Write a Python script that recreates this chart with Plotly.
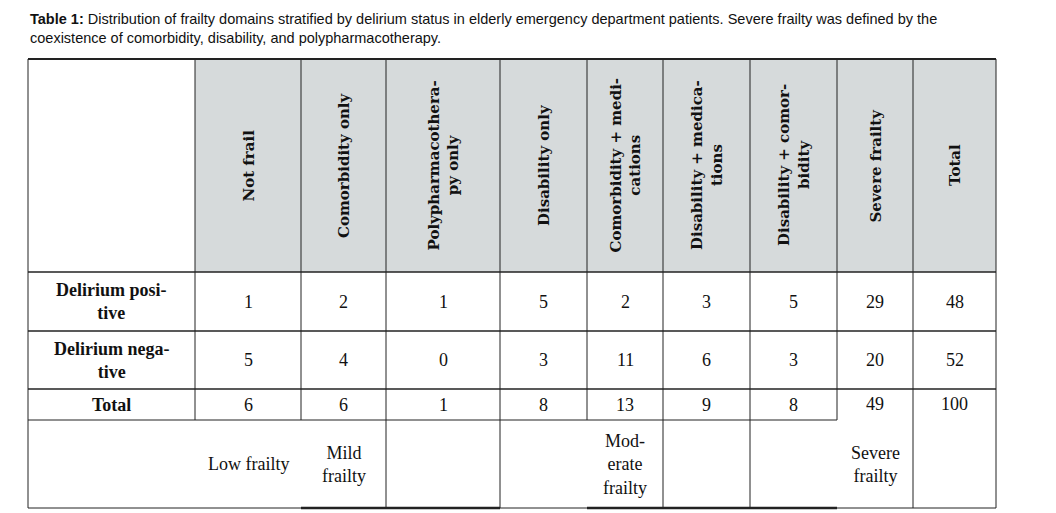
import plotly.graph_objects as go

# column headers (rotated) and values
headers = ["Not frail", "Comorbidity only", "Polypharmacothera-<br>py only", "Disability only",
           "Comorbidity + medi-<br>cations", "Disability + medica-<br>tions", "Disability + comor-<br>bidity",
           "Severe frailty", "Total"]
row_labels = ["Delirium posi-<br>tive", "Delirium nega-<br>tive", "Total"]
pos_vals = [1, 2, 1, 5, 2, 3, 5, 29, 48]
neg_vals = [5, 4, 0, 3, 11, 6, 3, 20, 52]
tot_vals = [6, 6, 1, 8, 13, 9, 8, 49, 100]
groups = [("Low frailty", 0), ("Mild<br>frailty", 1), ("Mod-<br>erate<br>frailty", 4), ("Severe<br>frailty", 7)]

# layout grid (pixels)
xs = [28, 195, 301, 386, 500, 587, 663, 750, 837, 913, 996]
ys = [59, 272, 331, 389, 420, 508]

fig = go.Figure()
fig.add_trace(go.Scatter(x=[0], y=[0], mode="markers", marker=dict(opacity=0), hoverinfo="skip"))

shapes = []
LINE = dict(color="#222", width=1)
# header shading
for i in range(len(headers)):
    shapes.append(dict(type="rect", x0=xs[i + 1], x1=xs[i + 2], y0=ys[0], y1=ys[1],
                       fillcolor="#d6dadb", line=dict(width=0), layer="below"))
# horizontal lines
shapes.append(dict(type="line", x0=xs[0], x1=xs[-1], y0=ys[0], y1=ys[0], line=dict(color="#222", width=2)))
for y in ys[1:4]:
    shapes.append(dict(type="line", x0=xs[0], x1=xs[-1], y0=y, y1=y, line=dict(color="#222", width=1.5)))
shapes.append(dict(type="line", x0=xs[0], x1=xs[8], y0=ys[4], y1=ys[4], line=LINE))
shapes.append(dict(type="line", x0=xs[0], x1=xs[-1], y0=ys[5], y1=ys[5], line=LINE))
for a, b in [(2, 4), (5, 6), (6, 8)]:
    shapes.append(dict(type="line", x0=xs[a], x1=xs[b], y0=ys[5], y1=ys[5], line=dict(color="#222", width=2.5)))
# vertical lines
for i, x in enumerate(xs):
    shapes.append(dict(type="line", x0=x, x1=x, y0=ys[0], y1=ys[4], line=LINE))
for i in [0, 3, 4, 6, 7, 9, 10]:
    shapes.append(dict(type="line", x0=xs[i], x1=xs[i], y0=ys[4], y1=ys[5], line=LINE))

ann = []
SERIF = "Liberation Serif"
for i, h in enumerate(headers):
    ann.append(dict(x=(xs[i + 1] + xs[i + 2]) / 2, y=(ys[0] + ys[1]) / 2, text="<b>" + h + "</b>",
                    textangle=-90, showarrow=False, font=dict(family="DejaVu Serif", size=15, color="#111")))
for r, (lab, vals) in enumerate(zip(row_labels, [pos_vals, neg_vals, tot_vals])):
    yc = (ys[r + 1] + ys[r + 2]) / 2
    ann.append(dict(x=(xs[0] + xs[1]) / 2, y=yc, text="<b>" + lab + "</b>", showarrow=False,
                    font=dict(family=SERIF, size=18, color="#111")))
    for i, v in enumerate(vals):
        yy = ys[3] + 15 if (r == 2 and i >= 7) else yc
        ann.append(dict(x=(xs[i + 1] + xs[i + 2]) / 2, y=yy, text=str(v), showarrow=False,
                        font=dict(family=SERIF, size=18, color="#111")))
for g, i in groups:
    ann.append(dict(x=(xs[i + 1] + xs[i + 2]) / 2, y=(ys[4] + ys[5]) / 2, text=g, showarrow=False,
                    font=dict(family=SERIF, size=18, color="#111")))
ann.append(dict(x=xs[0], y=9, xanchor="left", yanchor="top", align="left", showarrow=False,
                text="<b>Table 1:</b> Distribution of frailty domains stratified by delirium status in elderly emergency department patients. Severe frailty was defined by the<br>coexistence of comorbidity, disability, and polypharmacotherapy.",
                font=dict(family="Liberation Sans", size=14.5, color="#111")))

# page body has an 8px margin, so shift the ranges to keep pixel coordinates
fig.update_layout(
    width=1056, height=513, margin=dict(l=0, r=0, t=0, b=0),
    plot_bgcolor="white", paper_bgcolor="white", showlegend=False,
    xaxis=dict(range=[8, 1064], visible=False), yaxis=dict(range=[521, 8], visible=False),
    shapes=shapes, annotations=ann,
)
fig.write_html("out.html")
